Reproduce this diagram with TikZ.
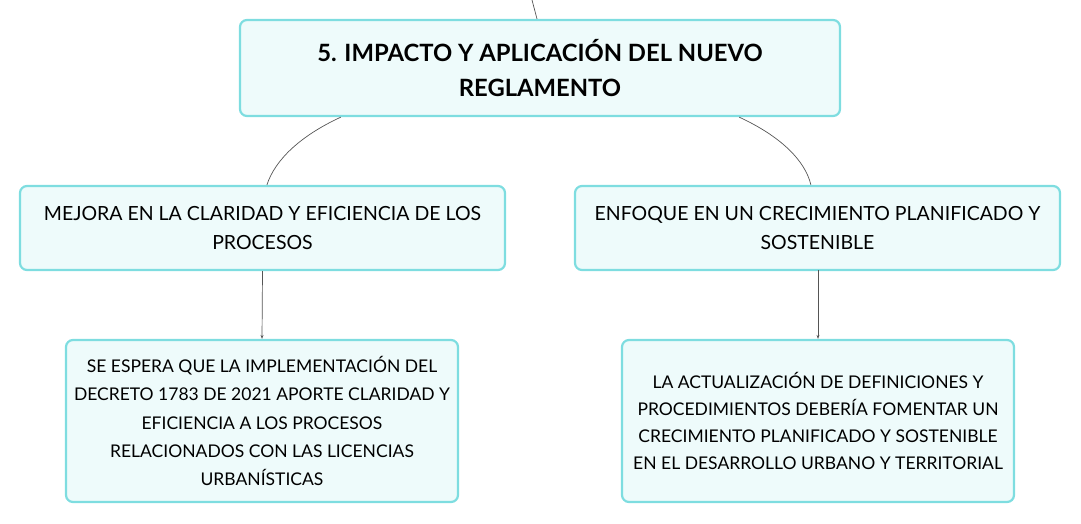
\documentclass[tikz,border=0pt]{standalone}
\usepackage{fontspec}
\setmainfont{Lato}
\usepackage{tikz}
\usetikzlibrary{calc}
\usetikzlibrary{arrows.meta}

\definecolor{boxfill}{HTML}{EEFBFB}
\definecolor{boxline}{HTML}{7EDDE0}
\definecolor{linkgray}{HTML}{555555}

\begin{document}
\begin{tikzpicture}[x=1pt,y=-1pt,
    caja/.style={draw=boxline,line width=2.2pt,fill=boxfill,rounded corners=7pt,
        align=center,inner sep=0pt,font=\fontsize{17.5}{28.2}\selectfont},
    enlace/.style={draw=linkgray,line width=0.7pt},
    flecha/.style={enlace,-{Stealth[length=4pt,width=3pt]}}]
    \useasboundingbox (0,0) rectangle (1081,524);

    % cajas
    \node[caja,minimum width=600pt,minimum height=96pt,
        font=\fontsize{23.8}{35}\selectfont\bfseries] (raiz) at (540,68)
        {5. IMPACTO Y APLICACIÓN DEL NUEVO\\REGLAMENTO};
    \node[caja,minimum width=485pt,minimum height=84pt,
        font=\fontsize{19.5}{29}\selectfont] (mejora) at (262.5,228)
        {MEJORA EN LA CLARIDAD Y EFICIENCIA DE LOS\\PROCESOS};
    \node[caja,minimum width=485pt,minimum height=84pt,
        font=\fontsize{19.5}{29}\selectfont] (enfoque) at (817.5,228)
        {ENFOQUE EN UN CRECIMIENTO PLANIFICADO Y\\SOSTENIBLE};
    \node[caja,minimum width=392pt,minimum height=162pt] (espera) at (262,421)
        {SE ESPERA QUE LA IMPLEMENTACIÓN DEL\\DECRETO 1783 DE 2021 APORTE CLARIDAD Y\\EFICIENCIA A LOS PROCESOS\\RELACIONADOS CON LAS LICENCIAS\\URBANÍSTICAS};
    \node[caja,minimum width=392pt,minimum height=162pt,
        font=\fontsize{17.5}{27.2}\selectfont] (actual) at (818,421)
        {LA ACTUALIZACIÓN DE DEFINICIONES Y\\PROCEDIMIENTOS DEBERÍA FOMENTAR UN\\CRECIMIENTO PLANIFICADO Y SOSTENIBLE\\EN EL DESARROLLO URBANO Y TERRITORIAL};

    \coordinate (arriba) at (532,0);

    % enlaces
    \draw[enlace] (arriba) -- (raiz.north -| 537,0);
    \draw[enlace] ($(raiz.south west)+(102,0)$) .. controls (300,136) and (275,160) .. ($(mejora.north west)+(248,0)$);
    \draw[enlace] ($(raiz.south east)+(-102,0)$) .. controls (780,136) and (805,160) .. ($(enfoque.north west)+(237,0)$);
    \draw[flecha] (mejora.south) -- (espera.north);
    \draw[flecha] (enfoque) ++(0.5,42) -- (actual.north);
\end{tikzpicture}
\end{document}
